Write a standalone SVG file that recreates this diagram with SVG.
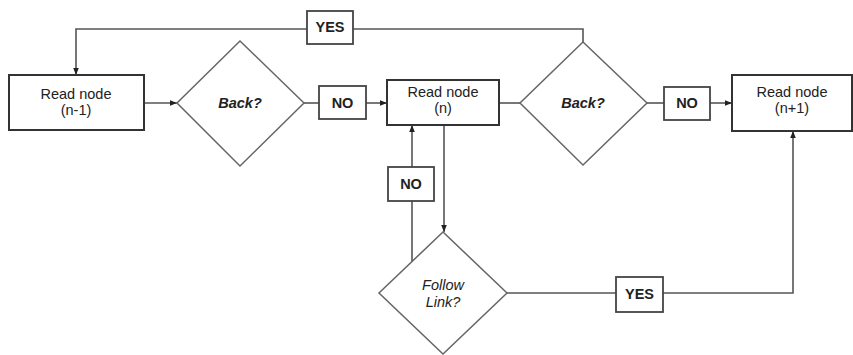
<svg xmlns="http://www.w3.org/2000/svg" width="853" height="355" viewBox="0 0 853 355">
<style>
.box{fill:#fff;stroke:#333;stroke-width:2}
.lbl{fill:#fff;stroke:#444;stroke-width:1.8}
.dia{fill:#fff;stroke:#666;stroke-width:1.5}
.ln{fill:none;stroke:#555;stroke-width:1.6}
.t{font-family:"Liberation Sans",Arial,sans-serif;font-size:14.5px;fill:#222;text-anchor:middle}
.b{font-weight:bold}
.i{font-style:italic}
</style>
<defs>
<marker id="ah" viewBox="0 0 10 10" refX="10" refY="5" markerWidth="7" markerHeight="7" markerUnits="userSpaceOnUse" orient="auto">
<path d="M0,1 L10,5 L0,9 z" fill="#222"/>
</marker>
</defs>
<rect width="853" height="355" fill="#fff"/>
<g id="connectors">
<line class="ln" x1="144" y1="103" x2="177" y2="103" marker-end="url(#ah)"/>
<line class="ln" x1="304" y1="103" x2="319" y2="103"/>
<line class="ln" x1="366" y1="103" x2="387" y2="103" marker-end="url(#ah)"/>
<line class="ln" x1="499" y1="103" x2="520" y2="103"/>
<line class="ln" x1="647" y1="103" x2="664" y2="103"/>
<line class="ln" x1="710" y1="103" x2="732" y2="103" marker-end="url(#ah)"/>
<polyline class="ln" points="583,42 583,29 353,29"/>
<polyline class="ln" points="307,29 76,29 76,75" marker-end="url(#ah)"/>
<line class="ln" x1="444" y1="125" x2="444" y2="232" marker-end="url(#ah)"/>
<line class="ln" x1="507" y1="293" x2="616" y2="293"/>
<polyline class="ln" points="663,293 793,293 793,131" marker-end="url(#ah)"/>
<line class="ln" x1="412" y1="262" x2="412" y2="201"/>
<line class="ln" x1="412" y1="167" x2="412" y2="125" marker-end="url(#ah)"/>
</g>
<g id="node-n-minus-1">
<rect class="box" x="9" y="75" width="135" height="55"/>
<text class="t" x="76" y="99">Read node</text>
<text class="t" x="76" y="115">(n-1)</text>
</g>
<g id="back1">
<polygon class="dia" points="240,41 304,103 240,166 177,103"/>
<text class="t b i" x="240" y="108">Back?</text>
</g>
<g id="no1">
<rect class="lbl" x="319" y="86" width="47" height="33"/>
<text class="t b" x="342.5" y="108">NO</text>
</g>
<g id="node-n">
<rect class="box" x="387" y="80" width="112" height="45"/>
<text class="t" x="443" y="97">Read node</text>
<text class="t" x="443" y="113">(n)</text>
</g>
<g id="back2">
<polygon class="dia" points="583,42 647,103 583,165 520,103"/>
<text class="t b i" x="583" y="108">Back?</text>
</g>
<g id="no2">
<rect class="lbl" x="664" y="87" width="46" height="33"/>
<text class="t b" x="687" y="108">NO</text>
</g>
<g id="node-n-plus-1">
<rect class="box" x="732" y="75" width="120" height="56"/>
<text class="t" x="792" y="97">Read node</text>
<text class="t" x="792" y="113">(n+1)</text>
</g>
<g id="yes1">
<rect class="lbl" x="307" y="11" width="46" height="33"/>
<text class="t b" x="330" y="32">YES</text>
</g>
<g id="no3">
<rect class="lbl" x="388" y="167" width="46" height="34"/>
<text class="t b" x="411" y="189">NO</text>
</g>
<g id="follow-link">
<polygon class="dia" points="443,232 507,293 443,354 379,293"/>
<text class="t i" x="443" y="290">Follow</text>
<text class="t i" x="443" y="307">Link?</text>
</g>
<g id="yes2">
<rect class="lbl" x="616" y="277" width="47" height="35"/>
<text class="t b" x="639.5" y="299">YES</text>
</g>
</svg>
